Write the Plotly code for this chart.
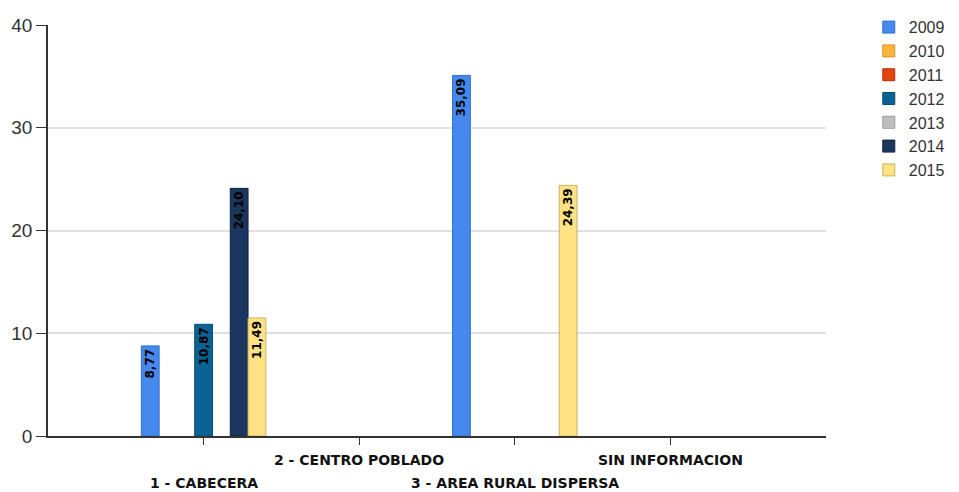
import plotly.graph_objects as go

# categorías y series
categorias = ['1 - CABECERA', '2 - CENTRO POBLADO', '3 - AREA RURAL DISPERSA', 'SIN INFORMACION']
anios = ['2009', '2010', '2011', '2012', '2013', '2014', '2015']

v2009 = [8.77, None, 35.09, None]
v2010 = [None, None, None, None]
v2011 = [None, None, None, None]
v2012 = [10.87, None, None, None]
v2013 = [None, None, None, None]
v2014 = [24.10, None, None, None]
v2015 = [11.49, None, 24.39, None]

colores = ['#4589EE', '#FDB43F', '#E2440F', '#0A6392', '#BEBEBE', '#1B365F', '#FEE283']
bordes = ['#2F6FCF', '#D9922A', '#B8330A', '#064D72', '#9C9C9C', '#10243F', '#CDB060']

series = [v2009, v2010, v2011, v2012, v2013, v2014, v2015]


def etiqueta(v):
    return '' if v is None else f'{v:.2f}'.replace('.', ',')


fig = go.Figure()
for anio, vals, col, borde in zip(anios, series, colores, bordes):
    fig.add_trace(go.Bar(
        x=categorias,
        y=vals,
        name=anio,
        marker=dict(color=col, line=dict(color=borde, width=1)),
        text=[etiqueta(v) for v in vals],
        textposition='inside',
        insidetextanchor='end',
        textangle=-90,
        constraintext='none',
        textfont=dict(family='DejaVu Sans', size=12, color='#000000', weight='bold'),
        legendgroup=anio,
    ))

# etiquetas del eje x escalonadas
for i, cat in enumerate(categorias):
    fig.add_annotation(
        x=cat, y=0, xref='x', yref='paper',
        text=f'<b>{cat}</b>',
        showarrow=False,
        yanchor='middle',
        yshift=-47 if i % 2 == 0 else -24,
        font=dict(family='DejaVu Sans', size=14, color='#111111'),
    )

# la página añade 8 px de margen, se compensa en el tamaño y márgenes
fig.update_layout(
    width=951,
    height=484,
    plot_bgcolor='white',
    paper_bgcolor='white',
    margin=dict(l=40, r=133, t=17, b=56, autoexpand=False),
    barmode='group',
    bargap=0.2,
    bargroupgap=0,
    showlegend=True,
    legend=dict(
        x=1.055, y=1.036, xanchor='left', yanchor='top',
        font=dict(family='Liberation Sans', size=16, color='#333333'),
        tracegroupgap=0,
        itemwidth=30,
    ),
    xaxis=dict(
        range=[-1, 4],
        automargin=False,
        showline=True, linecolor='#333333', linewidth=1.5,
        ticks='outside', ticklen=7, tickcolor='#333333',
        showticklabels=False,
        showgrid=False,
        zeroline=False,
    ),
    yaxis=dict(
        range=[0, 40],
        automargin=False,
        tickvals=[0, 10, 20, 30, 40],
        showline=True, linecolor='#333333', linewidth=1.5,
        ticks='outside', ticklen=10, tickcolor='#333333',
        tickfont=dict(family='Liberation Sans', size=19, color='#333333'),
        showgrid=True, gridcolor='#E0E0E0', gridwidth=2,
        zeroline=False,
    ),
)

fig.write_html('out.html')
